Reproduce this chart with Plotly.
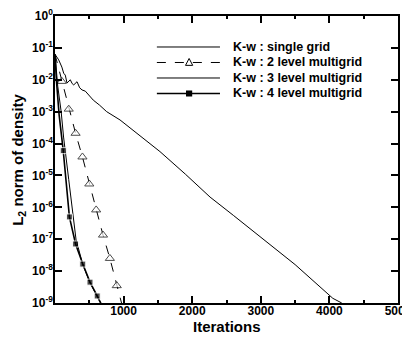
import plotly.graph_objects as go

# ---- data ----
single_iter = [0, 54, 100, 127, 150, 175, 223, 250, 273, 321, 360, 394, 442, 491, 558, 650,
               753, 948, 1239, 1530, 1900, 2260, 2600, 2990, 3500, 4050, 4180]
single_res = [6.3e-2, 4.2e-2, 2.5e-2, 1.6e-2, 1.4e-2, 7.9e-3, 1.0e-2, 7.6e-3, 6.9e-3, 8.7e-3,
              5.6e-3, 4.8e-3, 4.4e-3, 3.3e-3, 2.3e-3, 1.6e-3, 1.0e-3, 5.5e-4, 1.7e-4, 5.6e-5,
              1.1e-5, 2.1e-6, 5.6e-7, 1.2e-7, 1.6e-8, 1.4e-9, 1.0e-9]

mg2_iter = [0, 100, 200, 300, 400, 500, 600, 700, 800, 900, 970]
mg2_res = [6.3e-2, 8.9e-3, 1.2e-3, 2.1e-4, 3.8e-5, 5.4e-6, 8.3e-7, 1.35e-7, 2.5e-8, 3.5e-9, 1.0e-9]
mg2_mark = [False, True, True, True, True, True, True, True, True, True, False]

mg3_iter = [0, 40, 90, 125, 200, 306, 405, 510, 615, 690]
mg3_res = [6.3e-2, 6.3e-3, 1.0e-3, 1.6e-4, 7.4e-6, 1.0e-7, 1.6e-8, 4.3e-9, 1.6e-9, 7.9e-10]

mg4_iter = [0, 20, 60, 120, 210, 300, 405, 510, 615, 690]
mg4_res = [6.3e-2, 1.0e-2, 7.9e-4, 6.0e-5, 5.0e-7, 7.1e-8, 1.66e-8, 4.5e-9, 1.66e-9, 7.9e-10]
mg4_mark = [False, False, False, True, True, True, True, True, True, False]

legend_labels = ["K-w : single grid", "K-w : 2 level multigrid",
                 "K-w : 3 level multigrid", "K-w : 4 level multigrid"]
x_ticks = [1000, 2000, 3000, 4000, 5000]
y_ticks = [1e0, 1e-1, 1e-2, 1e-3, 1e-4, 1e-5, 1e-6, 1e-7, 1e-8, 1e-9]
y_ticktext = ["10<sup>0</sup>", "10<sup>-1</sup>", "10<sup>-2</sup>", "10<sup>-3</sup>",
              "10<sup>-4</sup>", "10<sup>-5</sup>", "10<sup>-6</sup>", "10<sup>-7</sup>",
              "10<sup>-8</sup>", "10<sup>-9</sup>"]
x_title = "Iterations"
y_title = "L<sub>2</sub> norm of density"

FONT = "Liberation Sans, Arial, sans-serif"

fig = go.Figure()
fig.add_trace(go.Scatter(x=single_iter, y=single_res, mode="lines",
                         line=dict(color="black", width=1)))
fig.add_trace(go.Scatter(x=mg2_iter, y=mg2_res, mode="lines+markers",
                         line=dict(color="black", width=1, dash="dash"),
                         marker=dict(symbol="triangle-up", color="white",
                                     size=[8 if m else 0 for m in mg2_mark],
                                     line=dict(color="black", width=1))))
fig.add_trace(go.Scatter(x=mg3_iter, y=mg3_res, mode="lines",
                         line=dict(color="black", width=1)))
fig.add_trace(go.Scatter(x=mg4_iter, y=mg4_res, mode="lines+markers",
                         line=dict(color="black", width=1.6),
                         marker=dict(symbol="square", color="black",
                                     size=[6 if m else 0 for m in mg4_mark])))

# ---- manual legend (compact rows) ----
rows_y = [0.892, 0.838, 0.784, 0.730]
x0, x1, xt = 0.297, 0.481, 0.513
styles = [dict(width=1), dict(width=1, dash="dash"), dict(width=1), dict(width=1.5)]
shapes = []
annotations = []
for ry, st, lab in zip(rows_y, styles, legend_labels):
    shapes.append(dict(type="line", xref="x domain", yref="y domain",
                       x0=x0, x1=x1, y0=ry, y1=ry, line=dict(color="black", **st)))
    annotations.append(dict(xref="x domain", yref="y domain", x=xt, y=ry, text=lab,
                            showarrow=False, xanchor="left", yanchor="middle",
                            font=dict(family=FONT, size=12.5, color="black", weight="bold")))
# triangle marker in legend row 2
tx, ty = 0.391, rows_y[1]
shapes.append(dict(type="path", xref="x domain", yref="y domain",
                   path=f"M {tx-0.0105},{ty-0.010} L {tx+0.0105},{ty-0.010} L {tx},{ty+0.014} Z",
                   fillcolor="white", line=dict(color="black", width=1)))
# square marker in legend row 4
sx, sy = 0.391, rows_y[3]
shapes.append(dict(type="rect", xref="x domain", yref="y domain",
                   x0=sx-0.009, x1=sx+0.009, y0=sy-0.0105, y1=sy+0.0105,
                   fillcolor="black", line=dict(color="black", width=0)))

# axis titles as annotations (precise placement)
annotations.append(dict(xref="x domain", yref="y domain", x=0.5, y=-0.082, text=x_title,
                        showarrow=False, xanchor="center", yanchor="middle",
                        font=dict(family=FONT, size=15, color="black", weight="bold")))
annotations.append(dict(xref="x domain", yref="y domain", x=-0.107, y=0.5, text=y_title,
                        showarrow=False, xanchor="center", yanchor="middle", textangle=-90,
                        font=dict(family=FONT, size=15, color="black", weight="bold")))

axis_common = dict(showgrid=False, zeroline=False, showline=True, linecolor="black",
                   linewidth=1.5, mirror="ticks", ticks="inside", ticklen=7, tickwidth=1.5,
                   tickcolor="black", automargin=False, ticklabeloverflow="allow",
                   tickfont=dict(family=FONT, size=12, color="black", weight="bold"))

fig.update_layout(
    template="none",
    width=402, height=332, showlegend=False,
    margin=dict(l=47, r=12, t=8, b=37, pad=0),
    paper_bgcolor="white", plot_bgcolor="white",
    shapes=shapes, annotations=annotations,
    xaxis=dict(range=[0, 5000], tickmode="array", tickvals=x_ticks,
               ticktext=[str(v) for v in x_ticks], ticklabelstandoff=-4,
               minor=dict(tickmode="linear", tick0=0, dtick=500, ticks="inside",
                          ticklen=3, tickcolor="black", showgrid=False),
               **axis_common),
    yaxis=dict(type="log", range=[-9, 0], tickmode="array", tickvals=y_ticks,
               ticktext=y_ticktext, ticklabelstandoff=-2,
               **axis_common),
)

fig.write_html("out.html")
